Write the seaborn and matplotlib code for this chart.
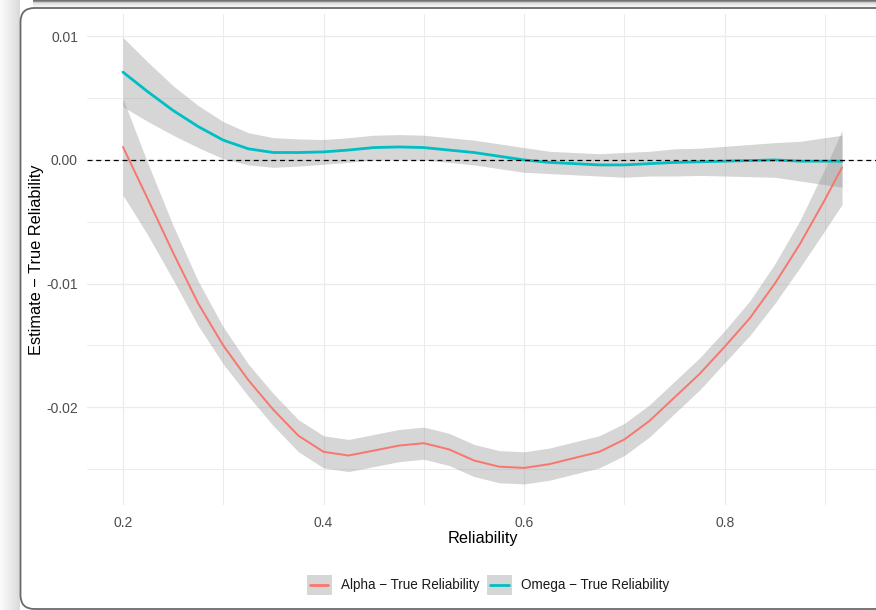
import numpy as np
import pandas as pd
import matplotlib
matplotlib.use("Agg")
import matplotlib.pyplot as plt
from matplotlib.patches import FancyBboxPatch, Rectangle
from matplotlib.lines import Line2D
import seaborn as sns

# Smoothed difference between estimated and true reliability
reliability = [0.200, 0.225, 0.250, 0.275, 0.300, 0.325, 0.350, 0.375, 0.400, 0.425,
               0.450, 0.475, 0.500, 0.525, 0.550, 0.575, 0.600, 0.625, 0.650, 0.675,
               0.700, 0.725, 0.750, 0.775, 0.800, 0.825, 0.850, 0.875, 0.900, 0.917]

alpha_diff = [0.00105, -0.0032, -0.0075, -0.0116, -0.0150, -0.0178, -0.0202, -0.0223, -0.0236, -0.0239,
              -0.0235, -0.0231, -0.0229, -0.0234, -0.0243, -0.0248, -0.0249, -0.0246, -0.0241, -0.0236,
              -0.0226, -0.0211, -0.0192, -0.0173, -0.0151, -0.0128, -0.0100, -0.0068, -0.0032, -0.0006]
alpha_se = [0.0039, 0.0029, 0.0022, 0.0018, 0.0015, 0.0013, 0.0013, 0.0013, 0.0013, 0.0013,
            0.0013, 0.0013, 0.0013, 0.0013, 0.0013, 0.0013, 0.0013, 0.0013, 0.0013, 0.0013,
            0.0013, 0.0013, 0.0013, 0.0013, 0.0013, 0.0014, 0.0016, 0.0019, 0.0025, 0.0030]

omega_diff = [0.0071, 0.0055, 0.0040, 0.0027, 0.0016, 0.0009, 0.0006, 0.0006, 0.00065, 0.0008,
              0.0010, 0.00105, 0.0010, 0.0008, 0.0006, 0.0003, 0.0000, -0.0002, -0.0003, -0.0004,
              -0.0004, -0.0003, -0.0002, -0.00015, -0.0001, -0.00005, 0.0000, -0.0001, -0.0001, -0.0001]
omega_se = [0.0028, 0.0024, 0.0020, 0.0017, 0.0015, 0.0013, 0.0012, 0.0011, 0.0010, 0.0010,
            0.0010, 0.0010, 0.0010, 0.0010, 0.0010, 0.0010, 0.0010, 0.0009, 0.0009, 0.0009,
            0.0010, 0.0010, 0.0011, 0.0011, 0.0012, 0.0013, 0.0014, 0.0016, 0.0019, 0.0021]

series_names = ["Alpha \u2212 True Reliability", "Omega \u2212 True Reliability"]
series_colors = ["#F8766D", "#00BFC4"]
x_ticks = [0.2, 0.4, 0.6, 0.8]
x_tick_labels = ["0.2", "0.4", "0.6", "0.8"]
y_ticks = [0.01, 0.0, -0.01, -0.02]
y_tick_labels = ["0.01", "0.00", "-0.01", "-0.02"]

df = pd.DataFrame({
    "Reliability": reliability * 2,
    "diff": alpha_diff + omega_diff,
    "se": alpha_se + omega_se,
    "series": [series_names[0]] * len(reliability) + [series_names[1]] * len(reliability),
})

sns.set_theme(style="white")
plt.rcParams["font.family"] = ["Liberation Sans", "DejaVu Sans"]

W, H = 876, 610
fig = plt.figure(figsize=(W / 100, H / 100), dpi=100)
fig.patch.set_facecolor("white")

# Card background with a soft shadow on the left
bg = fig.add_axes([0, 0, 1, 1], zorder=-10)
bg.axis("off")
shade = np.linspace(0.985, 0.86, 20)
grad = np.tile(shade[None, :, None], (H, 1, 3))
bg.imshow(grad, extent=(0, 20, H, 0), aspect="auto", interpolation="bilinear")
top = np.array([0.45, 0.55, 0.80, 0.88, 0.91, 0.94, 0.96, 0.98])
bg.imshow(np.tile(top[:, None, None], (1, W, 3)), extent=(33, W, 8, 0),
          aspect="auto", interpolation="nearest")
bg.set_xlim(0, W)
bg.set_ylim(H, 0)
card = FancyBboxPatch((20.5, 8.0), 900, 601.0,
                      boxstyle="round,pad=0,rounding_size=14",
                      facecolor="white", edgecolor="#6a6a6a", linewidth=1.3)
bg.add_patch(card)

# Plot panel
left, right, top_px, bottom_px = 87, 878, 14, 505
ax = fig.add_axes([left / W, 1 - bottom_px / H, (right - left) / W, (bottom_px - top_px) / H])
ax.set_facecolor("none")

x_lo = 0.2 - (0.917 - 0.2) * 0.05
x_hi = 0.917 + (0.917 - 0.2) * 0.05
ax.set_xlim(x_lo, x_hi)
ax.set_ylim(-0.0279, 0.0118)

ax.set_xticks(x_ticks)
ax.set_xticklabels(x_tick_labels)
ax.set_yticks(y_ticks)
ax.set_yticklabels(y_tick_labels)
ax.set_xticks([0.3, 0.5, 0.7, 0.9], minor=True)
ax.set_yticks([0.005, -0.005, -0.015, -0.025], minor=True)
ax.grid(which="major", color="#EBEBEB", linewidth=0.9)
ax.grid(which="minor", color="#EBEBEB", linewidth=0.7)
ax.set_axisbelow(True)
ax.tick_params(which="both", length=0, labelsize=10, labelcolor="#4D4D4D")
ax.tick_params(axis="x", pad=8)
ax.tick_params(axis="y", pad=6.5)
for s in ax.spines.values():
    s.set_visible(False)

for name, color in zip(series_names, series_colors):
    sub = df[df["series"] == name]
    ax.fill_between(sub["Reliability"], sub["diff"] - sub["se"], sub["diff"] + sub["se"],
                    color="#999999", alpha=0.4, linewidth=0)
    sns.lineplot(data=sub, x="Reliability", y="diff", color=color, ax=ax,
                 linewidth=1.4 if name == series_names[0] else 2.0,
                 estimator=None, sort=False, legend=False)

ax.axhline(0, color="black", linestyle=(0, (4, 3)), linewidth=0.9)

ax.set_xlabel("Reliability", fontsize=11.7, color="black", va="center")
ax.xaxis.set_label_coords((483 - left) / (right - left), -(539 - bottom_px) / (bottom_px - top_px))
ax.set_ylabel("Estimate \u2212 True Reliability", fontsize=11.8, color="black", va="center")
ax.yaxis.set_label_coords(-(left - 37) / (right - left), 0.5)


class KeyHandler:
    def __init__(self, color):
        self.color = color

    def legend_artist(self, legend, orig_handle, fontsize, handlebox):
        x0, y0 = -handlebox.xdescent, -handlebox.ydescent
        w, h = handlebox.width, handlebox.height
        tr = handlebox.get_transform()
        rect = Rectangle((x0, y0), w, h, facecolor="#D6D6D6", edgecolor="none", transform=tr)
        line = Line2D([x0 + 0.13 * w, x0 + 0.87 * w], [y0 + h / 2] * 2,
                      color=self.color, linewidth=2.0, transform=tr)
        handlebox.add_artist(rect)
        handlebox.add_artist(line)
        return rect


handles = [Line2D([], [], color=c) for c in series_colors]
fig.legend(handles, series_names,
           handler_map={h: KeyHandler(c) for h, c in zip(handles, series_colors)},
           loc="center", bbox_to_anchor=(488 / W, 1 - 585 / H), ncol=2, frameon=False,
           fontsize=9.75, handlelength=1.85, handleheight=1.85, handletextpad=0.67,
           columnspacing=0.6, labelcolor="#1A1A1A")

fig.savefig("out.png", dpi=100)
